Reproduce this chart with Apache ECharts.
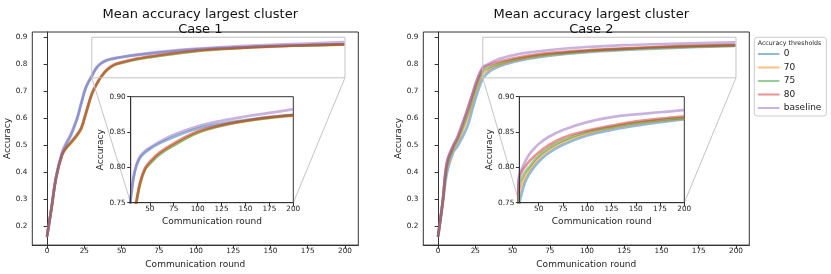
<!DOCTYPE html>
<html><head><meta charset="utf-8">
<script src="https://cdn.jsdelivr.net/npm/echarts@6/dist/echarts.min.js"></script>
<style>html,body{margin:0;padding:0;background:#fff}#c{width:831px;height:274px}</style>
</head><body><div id="c"></div>
<script>
// ---------------- data ----------------
const seriesNames = ['0', '70', '75', '80', 'baseline'];
const rounds = [0, 3, 6, 10, 13, 16, 20, 23, 26, 30, 33, 36, 40, 45, 50, 60, 75, 100, 125, 150, 175, 199];

// Case 1
const c1_t0   = [0.165, 0.27, 0.38, 0.470, 0.505, 0.537, 0.595, 0.655, 0.712, 0.755, 0.785, 0.802, 0.814, 0.821, 0.826, 0.834, 0.843, 0.855, 0.862, 0.867, 0.871, 0.874];
const c1_t70  = [0.165, 0.27, 0.38, 0.463, 0.490, 0.508, 0.535, 0.562, 0.615, 0.688, 0.722, 0.750, 0.777, 0.797, 0.806, 0.819, 0.832, 0.849, 0.859, 0.865, 0.870, 0.873];
const c1_t75  = [0.165, 0.27, 0.38, 0.464, 0.491, 0.510, 0.537, 0.564, 0.618, 0.690, 0.724, 0.751, 0.778, 0.797, 0.805, 0.818, 0.831, 0.849, 0.859, 0.866, 0.870, 0.874];
const c1_t80  = [0.165, 0.27, 0.38, 0.465, 0.493, 0.512, 0.540, 0.566, 0.620, 0.691, 0.726, 0.753, 0.780, 0.799, 0.808, 0.821, 0.834, 0.851, 0.860, 0.866, 0.871, 0.874];
const c1_base = [0.165, 0.272, 0.385, 0.475, 0.512, 0.543, 0.600, 0.660, 0.716, 0.758, 0.787, 0.804, 0.816, 0.823, 0.828, 0.836, 0.846, 0.858, 0.866, 0.872, 0.877, 0.882];

// Case 2
const c2_t0   = [0.165, 0.28, 0.40, 0.473, 0.497, 0.527, 0.575, 0.633, 0.688, 0.748, 0.766, 0.779, 0.790, 0.800, 0.808, 0.820, 0.832, 0.845, 0.853, 0.859, 0.864, 0.868];
const c2_t70  = [0.165, 0.285, 0.42, 0.485, 0.512, 0.548, 0.605, 0.660, 0.712, 0.765, 0.777, 0.787, 0.796, 0.805, 0.813, 0.824, 0.836, 0.848, 0.856, 0.862, 0.866, 0.869];
const c2_t75  = [0.165, 0.288, 0.43, 0.490, 0.520, 0.560, 0.620, 0.672, 0.724, 0.775, 0.785, 0.793, 0.800, 0.809, 0.816, 0.827, 0.838, 0.850, 0.857, 0.863, 0.867, 0.870];
const c2_t80  = [0.165, 0.29, 0.44, 0.497, 0.530, 0.575, 0.638, 0.688, 0.738, 0.785, 0.795, 0.801, 0.808, 0.815, 0.821, 0.831, 0.842, 0.852, 0.859, 0.865, 0.869, 0.872];
const c2_base = [0.165, 0.29, 0.44, 0.497, 0.530, 0.575, 0.638, 0.690, 0.742, 0.790, 0.799, 0.808, 0.818, 0.826, 0.833, 0.843, 0.853, 0.864, 0.871, 0.875, 0.878, 0.881];

const mainXTicks = [0, 25, 50, 75, 100, 125, 150, 175, 200];
const mainYTicks = [0.2, 0.3, 0.4, 0.5, 0.6, 0.7, 0.8, 0.9];
const insetXTicks = [50, 75, 100, 125, 150, 175, 200];
const insetYTicks = [0.75, 0.80, 0.85, 0.90];
const insetXRange = [30, 200];
const insetYRange = [0.75, 0.90];

const titles = ['Mean accuracy largest cluster\nCase 1', 'Mean accuracy largest cluster\nCase 2'];
const xName = 'Communication round';
const yName = 'Accuracy';
const legendTitle = 'Accuracy thresholds';

// ---------------- style ----------------
const FONT = 'DejaVu Sans';
const colors = ['#1f77b4', '#ff7f0e', '#2ca02c', '#d62728', '#9467bd'];
const cases = [[c1_t0, c1_t70, c1_t75, c1_t80, c1_base], [c2_t0, c2_t70, c2_t75, c2_t80, c2_base]];

const mainGrids = [
  {left: 32.3, top: 32, width: 326, height: 214},
  {left: 423.3, top: 32, width: 326, height: 214}
];
const insetGrids = [
  {left: 130.7, top: 96.7, width: 162.6, height: 106},
  {left: 519.3, top: 96.7, width: 165, height: 106}
];

const grid = [], xAxis = [], yAxis = [], series = [];
function axisCommon(z) {
  return {
    type: 'value', z: z, splitLine: {show: false},
    axisLine: {show: true, lineStyle: {color: '#333', width: 1}},
    nameLocation: 'middle',
    nameTextStyle: {fontSize: 9, color: '#222', fontFamily: FONT}
  };
}
for (let k = 0; k < 2; k++) {
  grid.push(Object.assign({show: true, borderColor: '#333', borderWidth: 1, backgroundColor: 'transparent', z: 0}, mainGrids[k]));
  const gm = grid.length - 1;
  xAxis.push(Object.assign(axisCommon(1), {
    gridIndex: gm, min: -9.95, max: 208.95, name: xName, nameGap: 13.8,
    axisTick: {show: true, length: 3.5, customValues: mainXTicks, lineStyle: {color: '#333'}},
    axisLabel: {customValues: mainXTicks, fontSize: 7.3, color: '#222', margin: 3, fontFamily: FONT}
  }));
  yAxis.push(Object.assign(axisCommon(1), {
    gridIndex: gm, min: 0.131, max: 0.9195, name: yName, nameGap: 18.5,
    axisTick: {show: true, length: 3.5, customValues: mainYTicks, lineStyle: {color: '#333'}},
    axisLabel: {customValues: mainYTicks, fontSize: 7.3, color: '#222', margin: 5, fontFamily: FONT,
      formatter: v => v.toFixed(1)}
  }));
  grid.push(Object.assign({show: true, borderColor: '#333', borderWidth: 1, backgroundColor: '#fff', z: 4}, insetGrids[k]));
  const gi = grid.length - 1;
  xAxis.push(Object.assign(axisCommon(6), {
    gridIndex: gi, min: insetXRange[0], max: insetXRange[1], name: xName, nameGap: 14.5,
    axisTick: {show: true, length: 3.5, customValues: insetXTicks, lineStyle: {color: '#333'}},
    axisLabel: {customValues: insetXTicks, fontSize: 7.3, color: '#222', margin: 3, fontFamily: FONT}
  }));
  yAxis.push(Object.assign(axisCommon(6), {
    gridIndex: gi, min: insetYRange[0], max: insetYRange[1], name: yName, nameGap: 24.5,
    axisTick: {show: true, length: 3.5, customValues: insetYTicks, lineStyle: {color: '#333'}},
    axisLabel: {customValues: insetYTicks, fontSize: 7.3, color: '#222', margin: 5, fontFamily: FONT,
      formatter: v => v.toFixed(2)}
  }));
  for (const [axisIdx, z] of [[gm, 2], [gi, 5]]) {
    cases[k].forEach((vals, i) => {
      series.push({
        type: 'line', name: seriesNames[i], xAxisIndex: axisIdx, yAxisIndex: axisIdx, z: z,
        data: rounds.map((r, j) => [r, vals[j]]),
        showSymbol: false, symbol: 'none', symbolSize: 0, smooth: 0.4, clip: true,
        lineStyle: {color: colors[i], width: 2.7, opacity: 0.5, join: 'round', cap: 'round'},
        itemStyle: {color: colors[i], opacity: 0},
        emphasis: {disabled: true}, animation: false
      });
    });
  }
}

const option = {
  animation: false,
  backgroundColor: '#fff',
  textStyle: {fontFamily: FONT},
  title: titles.map((t, k) => ({
    text: t, left: mainGrids[k].left + mainGrids[k].width / 2, top: 2.5, textAlign: 'center',
    textStyle: {fontSize: 13, fontWeight: 'normal', color: '#111', fontFamily: FONT, lineHeight: 15}
  })),
  legend: {
    orient: 'vertical', left: 754.3, top: 37.3, padding: [12.2, 5, 3.5, 3.4],
    itemWidth: 20, itemHeight: 9, itemGap: 4.5,
    borderColor: '#ccc', borderWidth: 1, borderRadius: 3, backgroundColor: '#fff',
    itemStyle: {opacity: 0},
    textStyle: {fontSize: 9, color: '#222', fontFamily: FONT},
    data: seriesNames, selectedMode: false
  },
  grid, xAxis, yAxis, series
};

const chart = echarts.init(document.getElementById('c'), null, {renderer: 'canvas'});
chart.setOption(option);

const graphics = [];
for (let k = 0; k < 2; k++) {
  const gm = k * 2, gi = k * 2 + 1;
  const p = (g, x, y) => chart.convertToPixel({xAxisIndex: g, yAxisIndex: g}, [x, y]);
  const a = p(gm, insetXRange[0], insetYRange[1]);
  const b = p(gm, insetXRange[1], insetYRange[0]);
  graphics.push({type: 'rect', z: 3, silent: true,
    shape: {x: a[0], y: a[1], width: b[0] - a[0], height: b[1] - a[1]},
    style: {fill: 'none', stroke: '#c4c4c4', lineWidth: 1}});
  const bl = p(gm, insetXRange[0], insetYRange[0]);
  const br = p(gm, insetXRange[1], insetYRange[0]);
  const ibl = p(gi, insetXRange[0], insetYRange[0]);
  const ibr = p(gi, insetXRange[1], insetYRange[0]);
  graphics.push({type: 'line', z: 3, silent: true, shape: {x1: bl[0], y1: bl[1], x2: ibl[0], y2: ibl[1]}, style: {stroke: '#c4c4c4', lineWidth: 1}});
  graphics.push({type: 'line', z: 3, silent: true, shape: {x1: br[0], y1: br[1], x2: ibr[0], y2: ibr[1]}, style: {stroke: '#c4c4c4', lineWidth: 1}});
}
graphics.push({type: 'text', z: 10, left: 757.7, top: 40.8, silent: true,
  style: {text: legendTitle, fontSize: 6.3, fill: '#222', fontFamily: FONT}});
chart.setOption({graphic: graphics});
</script></body></html>
